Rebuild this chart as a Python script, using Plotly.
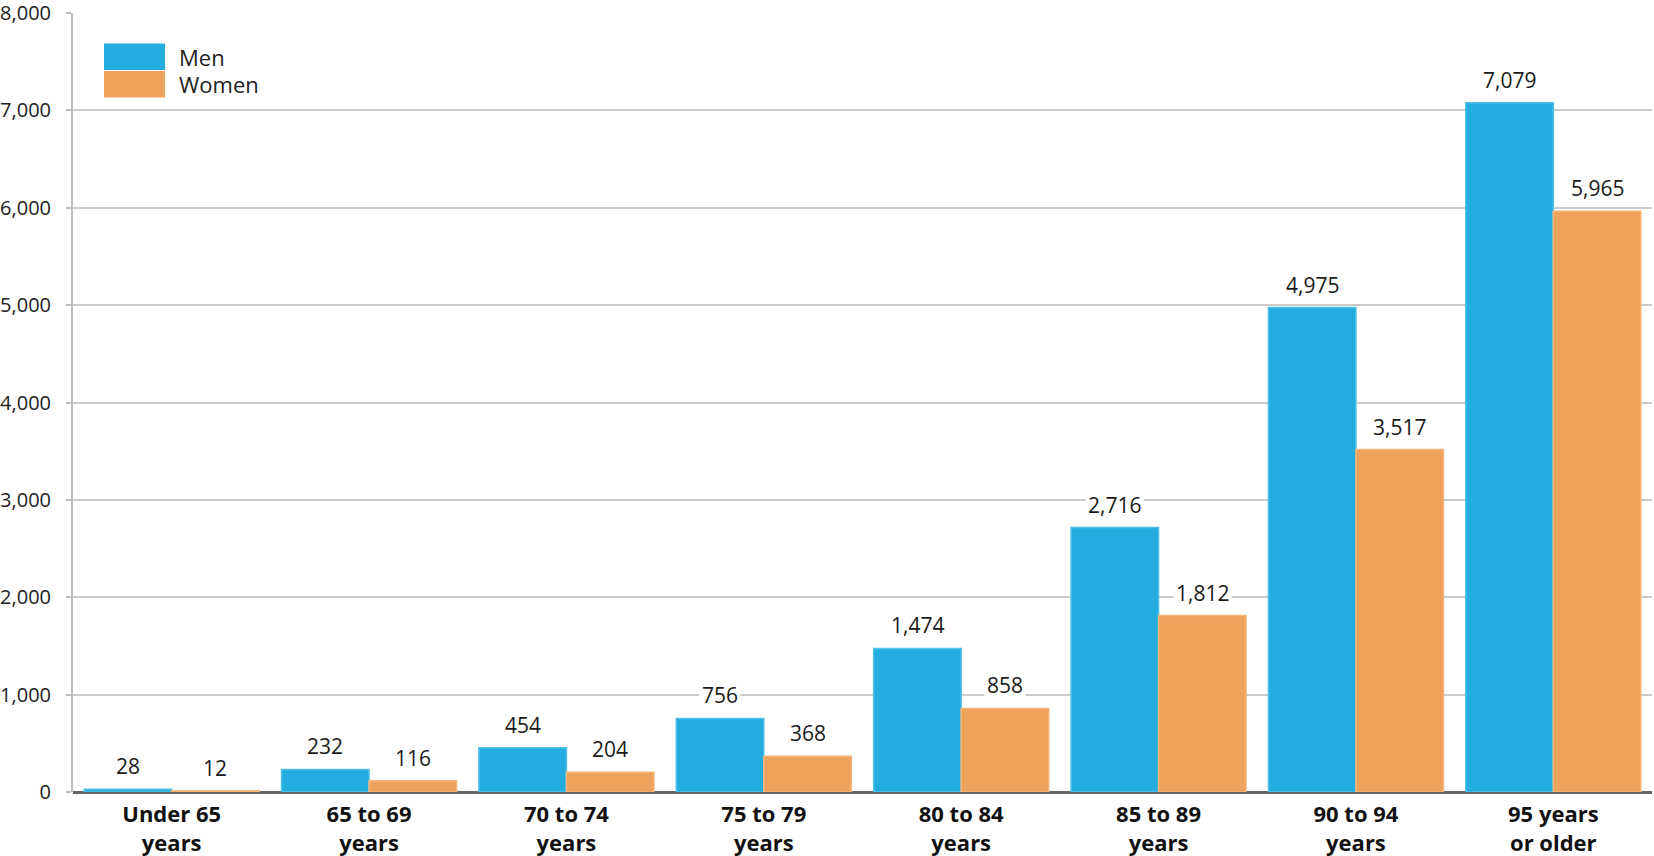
import plotly.graph_objects as go

categories = ["Under 65<br>years", "65 to 69<br>years", "70 to 74<br>years", "75 to 79<br>years",
              "80 to 84<br>years", "85 to 89<br>years", "90 to 94<br>years", "95 years<br>or older"]
men = [28, 232, 454, 756, 1474, 2716, 4975, 7079]
women = [12, 116, 204, 368, 858, 1812, 3517, 5965]
series_names = ["Men", "Women"]
colors = ["#23ADDF", "#EFA25C"]
line_colors = ["#4FC0E8", "#F5B57A"]

W, H = 1654, 856
# plot area at x 73..1652, y 13..792 (page body margin removed below)
ML, MT = 73, 13
MR = W - 1652
MB = H - 792
BARGAP = 0.113
FONT = "Open Sans"

fig = go.Figure()
for name, vals, c, lc in zip(series_names, [men, women], colors, line_colors):
    fig.add_trace(go.Bar(
        x=categories, y=vals, name=name, marker=dict(color=c, line=dict(color=lc, width=1.5)),
        showlegend=False,
    ))

plot_w = W - ML - MR
plot_h = H - MT - MB
group_w = plot_w / len(categories)
bar_w = group_w * (1 - BARGAP) / 2
annos = []
for vals, sign in [(men, -1), (women, 1)]:
    for cat, v in zip(categories, vals):
        annos.append(dict(x=cat, y=v, xref="x", yref="y", text=f"{v:,}", showarrow=False,
                          xshift=sign * bar_w / 2, yshift=23, yanchor="middle",
                          bgcolor="white", borderpad=2,
                          font=dict(family=FONT, size=21, color="#1a1a1a")))

# legend drawn as swatches (figure px)
legend_items = list(zip(series_names, colors))
sw_x0, sw_x1 = 104, 165
sw_y0 = 43
sw_h = 27.5
shapes = []
for i, (name, c) in enumerate(legend_items):
    y0 = sw_y0 + i * sw_h
    shapes.append(dict(type="rect", xref="paper", yref="paper",
                       x0=(sw_x0 - ML) / plot_w, x1=(sw_x1 - ML) / plot_w,
                       y0=1 - (y0 + 0.5 - MT) / plot_h, y1=1 - (y0 + sw_h - 0.5 - MT) / plot_h,
                       fillcolor=c, line=dict(width=0)))
    annos.append(dict(x=(sw_x1 + 12 - ML) / plot_w, y=1 - (y0 + sw_h / 2 - MT) / plot_h,
                      xref="paper", yref="paper", text=name, showarrow=False, xanchor="left",
                      yanchor="middle", font=dict(family=FONT, size=22, color="#222")))

fig.update_layout(
    width=W, height=H,
    margin=dict(l=ML, r=MR, t=MT, b=MB, autoexpand=False),
    paper_bgcolor="white", plot_bgcolor="white",
    barmode="group", bargap=BARGAP, bargroupgap=0,
    annotations=annos, shapes=shapes,
    font=dict(family=FONT, color="#222"),
)
fig.update_yaxes(range=[0, 8001], tickvals=[0, 1000, 2000, 3000, 4000, 5000, 6000, 7000, 8000],
                 tickformat=",", showgrid=True, automargin=False, ticklabeloverflow="allow",
                 gridcolor="#cbcbcb", gridwidth=2, showline=True, linecolor="#bdbdbd", linewidth=2,
                 ticks="outside", ticklen=5, tickcolor="#bdbdbd", tickwidth=2, ticklabelstandoff=11,
                 zeroline=True, zerolinecolor="#666666", zerolinewidth=3,
                 tickfont=dict(family=FONT, size=20, color="#222"))
fig.update_xaxes(showgrid=False, ticks="", showline=False, automargin=False, ticklabelstandoff=7,
                 ticklabeloverflow="allow",
                 tickfont=dict(family=FONT, size=22, color="#111", weight="bold"))

fig.write_html("out.html", config={"displayModeBar": False},
               post_script="document.body.style.margin='0px';")
